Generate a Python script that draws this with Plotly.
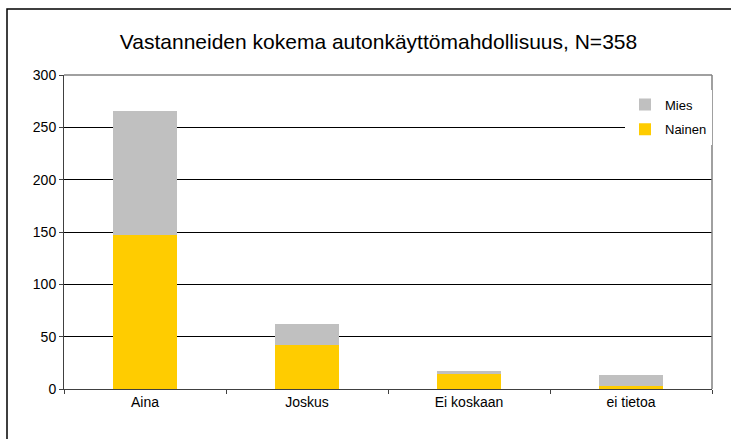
import plotly.graph_objects as go

categories = ["Aina", "Joskus", "Ei koskaan", "ei tietoa"]
nainen = [147, 42, 14, 3]
mies = [119, 20, 3, 10]
y_ticks = [0, 50, 100, 150, 200, 250, 300]

W, H = 731, 439
L, R, T, B = 64, 19, 75, 50
pw, ph = W - L - R, H - T - B

def px_x(p):
    return (p - L) / pw

def px_y(p):
    return (H - B - p) / ph

fig = go.Figure()
fig.add_trace(go.Bar(name="Nainen", x=categories, y=nainen, marker=dict(color="#FFCC00", line=dict(width=0)),
                     legendgroup="n", legendrank=2))
fig.add_trace(go.Bar(name="Mies", x=categories, y=mies, marker=dict(color="#C0C0C0", line=dict(width=0)),
                     legendgroup="m", legendrank=1))

font = "Liberation Sans, Arial, sans-serif"
fig.update_layout(
    width=W, height=H,
    margin=dict(l=L, r=R, t=T, b=B),
    barmode="stack", bargap=0.6,
    paper_bgcolor="white", plot_bgcolor="white",
    font=dict(family=font, size=14, color="black"),
    title=dict(text="Vastanneiden kokema autonkäyttömahdollisuus, N=358",
               x=px_x(378.5), xref="paper", xanchor="center",
               y=1 - 42 / H, yref="container", yanchor="middle",
               font=dict(family=font, size=21, color="black")),
    showlegend=True,
    legend=dict(x=px_x(625), y=px_y(89.5), xanchor="left", yanchor="top",
                bgcolor="white", borderwidth=0, tracegroupgap=5,
                traceorder="grouped",
                font=dict(family=font, size=13, color="black"),
                itemwidth=30),
    xaxis=dict(showgrid=False, showline=True, linecolor="#404040", linewidth=1,
               ticks="outside", tickson="boundaries", ticklen=4, tickcolor="#404040",
               tickfont=dict(size=14)),
    yaxis=dict(range=[0, 300], tickvals=y_ticks, showgrid=True, gridcolor="#000000", gridwidth=1,
               showline=True, linecolor="#404040", linewidth=1,
               ticks="outside", ticklen=4, tickcolor="#404040", zeroline=False,
               tickfont=dict(size=14)),
    shapes=[
        dict(type="line", xref="paper", yref="paper", x0=0, x1=1, y0=1, y1=1,
             line=dict(color="#808080", width=1.5), layer="above"),
        dict(type="line", xref="paper", yref="paper", x0=1, x1=1, y0=0, y1=1,
             line=dict(color="#808080", width=1.5), layer="above"),
        dict(type="rect", xref="paper", yref="paper",
             x0=px_x(7), x1=px_x(740), y0=px_y(450), y1=px_y(9),
             line=dict(color="black", width=1.5), fillcolor="rgba(0,0,0,0)", layer="above"),
    ],
)

fig.write_html("out.html", config={"displayModeBar": False},
               post_script="document.body.style.margin='0';")
